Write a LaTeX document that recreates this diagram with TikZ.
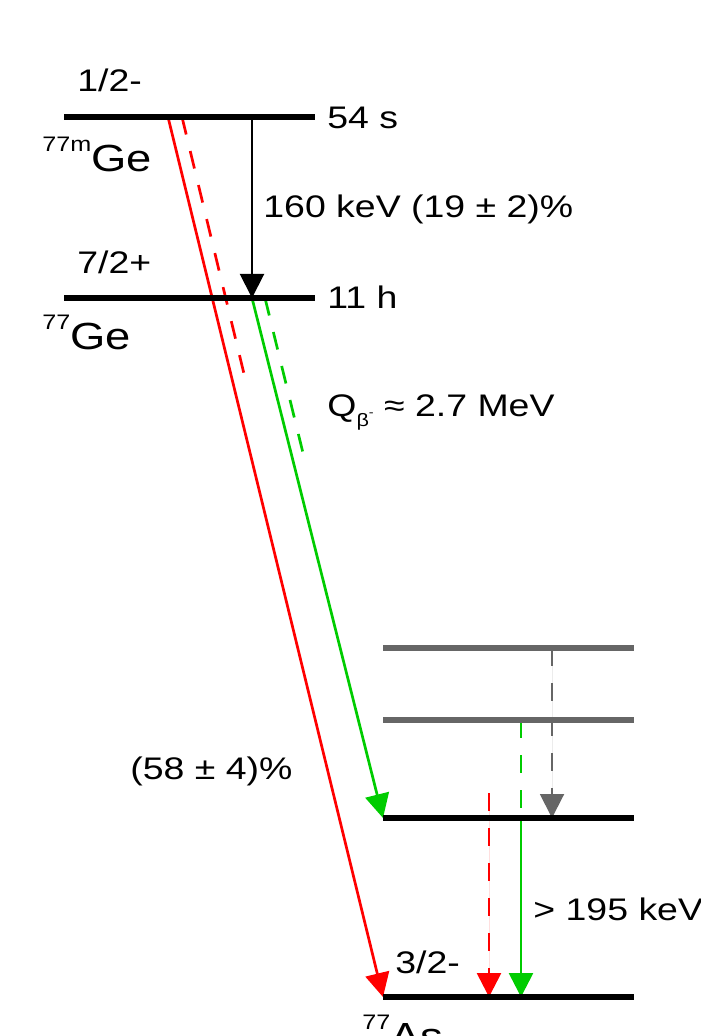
\documentclass[tikz,border=0pt]{standalone}
\usepackage{fontspec}
\setmainfont{Liberation Sans}[FakeStretch=1.2]
\usepackage{xcolor}
\usetikzlibrary{arrows.meta}

\definecolor{decayred}{RGB}{255,0,0}
\definecolor{decaygreen}{RGB}{0,204,0}
\definecolor{levelgray}{RGB}{102,102,102}
\newcommand{\isolabel}[2]{\raisebox{10pt}{\fontsize{10.5}{12}\selectfont #1}#2}

\begin{document}
\begin{tikzpicture}[
    x=0.5pt,y=-0.5pt,
    >={Triangle[length=12pt,width=12pt]},
    level/.style={line width=3pt,draw=black},
    graylevel/.style={line width=3pt,draw=levelgray},
    gammaline/.style={->,line width=1pt},
    betaline/.style={line width=1.35pt},
    broken/.style={dash pattern=on 9pt off 8.5pt},
    lbl/.style={font=\fontsize{15.6}{18}\selectfont,inner sep=0pt,anchor=base west},
    nucl/.style={font=\fontsize{18.9}{22}\selectfont,inner sep=0pt,anchor=base west}
  ]
    \useasboundingbox (0,0) rectangle (700,1036);

    % levels of 77Ge
    \coordinate (mL) at (64,117);  \coordinate (mR) at (315,117);
    \coordinate (gL) at (64,298);  \coordinate (gR) at (315,298);
    % levels of 77As
    \coordinate (a3L) at (383,648); \coordinate (a3R) at (634,648);
    \coordinate (a2L) at (383,720); \coordinate (a2R) at (634,720);
    \coordinate (a1L) at (383,818); \coordinate (a1R) at (634,818);
    \coordinate (a0L) at (383,997); \coordinate (a0R) at (634,997);

    % transition end points
    \coordinate (rs) at (168,117);
    \coordinate (rd) at (182,117);
    \coordinate (rdEnd) at (245,378);
    \coordinate (it) at (252,117);
    \coordinate (itEnd) at (252,298);
    \coordinate (gd) at (265,298);
    \coordinate (gdEnd) at (303,453);
    \coordinate (gy) at (552,648);
    \coordinate (gyEnd) at (552,818);
    \coordinate (gn) at (521,720);
    \coordinate (gnMid) at (521,818);
    \coordinate (gnEnd) at (521,997);
    \coordinate (rn) at (489,793);
    \coordinate (rnEnd) at (489,997);

    \draw[betaline,->,draw=decayred,fill=decayred] (rs) -- (a0L);
    \draw[betaline,broken,draw=decayred] (rd) -- (rdEnd);
    \draw[gammaline,draw=black,fill=black] (it) -- (itEnd);
    \draw[betaline,->,draw=decaygreen,fill=decaygreen] (itEnd) -- (a1L);
    \draw[betaline,broken,draw=decaygreen] (gd) -- (gdEnd);

    \draw[gammaline,broken,draw=levelgray,fill=levelgray] (gy) -- (gyEnd);
    \draw[betaline,broken,draw=decaygreen] (gn) -- (gnMid);
    \draw[betaline,->,draw=decaygreen,fill=decaygreen] (gnMid) -- (gnEnd);
    \draw[betaline,broken,->,draw=decayred,fill=decayred] (rn) -- (rnEnd);

    \draw[level] (mL) -- (mR);
    \draw[level] (gL) -- (gR);
    \draw[graylevel] (a3L) -- (a3R);
    \draw[graylevel] (a2L) -- (a2R);
    \draw[level] (a1L) -- (a1R);
    \draw[level] (a0L) -- (a0R);

    \node[lbl] (spin1) at (77,92) {1/2-};
    \node[lbl] (life1) at (327,129) {54 s};
    \node[nucl] (nuc1) at (42,172) {\isolabel{77m}{Ge}};
    \node[lbl] (spin2) at (77,274) {7/2+};
    \node[lbl] (life2) at (327,309) {11 h};
    \node[nucl] (nuc2) at (42,350) {\isolabel{77}{Ge}};
    \node[lbl] (itlbl) at (263,218) {160 keV (19 ± 2)\%};
    \node[lbl] (qval) at (327,417) {Q\raisebox{-5pt}{\fontsize{9}{10}\selectfont β\raisebox{5pt}{\fontsize{6}{7}\selectfont -}} ≈ 2.7 MeV};
    \node[lbl] (branch) at (130,779) {(58 ± 4)\%};
    \node[lbl] (gamlbl) at (533,920) {> 195 keV};
    \node[lbl] (spin3) at (395,973) {3/2-};
    \node[nucl] (nuc3) at (362,1049) {\isolabel{77}{As}};
\end{tikzpicture}
\end{document}
